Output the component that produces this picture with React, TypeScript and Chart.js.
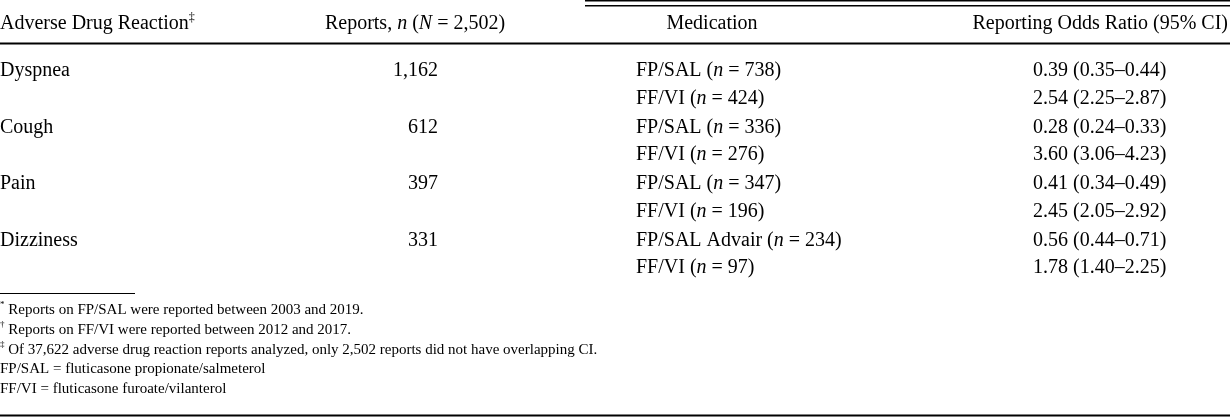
import React, { useEffect, useRef } from "react";
import { Chart, registerables } from "chart.js";

Chart.register(...registerables);

// ---------- data ----------
const reactions = ["Dyspnea", "Cough", "Pain", "Dizziness"];
const reportCounts = [1162, 612, 397, 331];
const totalReports = 2502;

const medications = ["FP/SAL", "FF/VI", "FP/SAL", "FF/VI", "FP/SAL", "FF/VI", "FP/SAL Advair", "FF/VI"];
const medicationN = [738, 424, 336, 276, 347, 196, 234, 97];
const rorValues = [0.39, 2.54, 0.28, 3.6, 0.41, 2.45, 0.56, 1.78];
const ciLower = [0.35, 2.25, 0.24, 3.06, 0.34, 2.05, 0.44, 1.4];
const ciUpper = [0.44, 2.87, 0.33, 4.23, 0.49, 2.92, 0.71, 2.25];

const headerLabels = ["Adverse Drug Reaction", "Reports", "Medication", "Reporting Odds Ratio (95% CI)"];

const footnoteMarks = ["*", "†", "‡", "", ""];
const footnoteTexts = [
  "Reports on FP/SAL were reported between 2003 and 2019.",
  "Reports on FF/VI were reported between 2012 and 2017.",
  "Of 37,622 adverse drug reaction reports analyzed, only 2,502 reports did not have overlapping CI.",
  "FP/SAL = fluticasone propionate/salmeterol",
  "FF/VI = fluticasone furoate/vilanterol",
];

// ---------- layout (pixel-like units on the chart's own scales) ----------
const W = 1230;
const H = 418;
const FONT = '"Liberation Serif", "Times New Roman", serif';
const COL = {
  reaction: 0,
  reportsRight: 438,
  reportsHeaderCenter: 415,
  medication: 636,
  medicationHeaderCenter: 712,
  rorLeft: 1033,
  rorHeaderRight: 1228,
  note: 0,
};
const HEADER_Y = 24;
const subRowY = (i: number) => 71 + Math.floor(i / 2) * 56.5 + (i % 2) * 27.5;
const NOTE_Y0 = 310;
const NOTE_STEP = 19.8;

type Seg = { t: string; it?: boolean; sup?: boolean };

function drawRich(
  ctx: CanvasRenderingContext2D,
  segs: Seg[],
  x: number,
  y: number,
  size: number,
  align: "left" | "right" | "center"
) {
  const fontFor = (s: Seg) => {
    const sz = s.sup ? Math.round(size * 0.62) : size;
    return `${s.it ? "italic " : ""}${sz}px ${FONT}`;
  };
  let total = 0;
  const widths = segs.map((s) => {
    ctx.font = fontFor(s);
    const w = ctx.measureText(s.t).width;
    total += w;
    return w;
  });
  let cx = align === "left" ? x : align === "right" ? x - total : x - total / 2;
  ctx.textBaseline = "middle";
  ctx.textAlign = "left";
  segs.forEach((s, i) => {
    ctx.font = fontFor(s);
    ctx.fillText(s.t, cx, s.sup ? y - size * 0.33 : y);
    cx += widths[i];
  });
}

const tablePlugin = {
  id: "tableText",
  afterDraw(chart: any) {
    const { ctx } = chart;
    const xs = chart.scales.x;
    const ys = chart.scales.y;
    const px = (v: number) => xs.getPixelForValue(v);
    const py = (v: number) => ys.getPixelForValue(v);
    ctx.save();
    ctx.fillStyle = "#000";
    ctx.strokeStyle = "#000";

    // rules
    const rule = (x0: number, x1: number, yv: number, lw: number) => {
      ctx.lineWidth = lw;
      ctx.beginPath();
      ctx.moveTo(px(x0), py(yv));
      ctx.lineTo(px(x1), py(yv));
      ctx.stroke();
    };
    rule(585, W, 0.8, 1.6);
    rule(585, W, 5.8, 1.6);
    rule(0, W, 43.5, 2);
    rule(0, 135, 293.5, 1.2);
    rule(0, W, 415.5, 2);

    // header
    drawRich(ctx, [{ t: headerLabels[0] }, { t: "‡", sup: true }], px(COL.reaction), py(HEADER_Y), 20, "left");
    drawRich(
      ctx,
      [
        { t: headerLabels[1] + ", " },
        { t: "n", it: true },
        { t: " (" },
        { t: "N", it: true },
        { t: " = " + totalReports.toLocaleString("en-US") + ")" },
      ],
      px(COL.reportsHeaderCenter),
      py(HEADER_Y),
      20,
      "center"
    );
    drawRich(ctx, [{ t: headerLabels[2] }], px(COL.medicationHeaderCenter), py(HEADER_Y), 20, "center");
    drawRich(ctx, [{ t: headerLabels[3] }], px(COL.rorHeaderRight), py(HEADER_Y), 20, "right");

    // body rows (positions taken from the dataset points)
    const m0 = chart.getDatasetMeta(0);
    m0.data.forEach((pt: any, i: number) => {
      drawRich(ctx, [{ t: reactions[i] }], pt.x, pt.y, 20, "left");
    });
    const m1 = chart.getDatasetMeta(1);
    m1.data.forEach((pt: any, i: number) => {
      drawRich(ctx, [{ t: reportCounts[i].toLocaleString("en-US") }], pt.x, pt.y, 20, "right");
    });
    const m2 = chart.getDatasetMeta(2);
    m2.data.forEach((pt: any, i: number) => {
      drawRich(
        ctx,
        [{ t: medications[i] + " (" }, { t: "n", it: true }, { t: " = " + medicationN[i] + ")" }],
        pt.x,
        pt.y,
        20,
        "left"
      );
    });
    const m3 = chart.getDatasetMeta(3);
    m3.data.forEach((pt: any, i: number) => {
      drawRich(
        ctx,
        [{ t: `${rorValues[i].toFixed(2)} (${ciLower[i].toFixed(2)}–${ciUpper[i].toFixed(2)})` }],
        pt.x,
        pt.y,
        20,
        "left"
      );
    });

    // footnotes
    footnoteTexts.forEach((t, i) => {
      const segs: Seg[] = footnoteMarks[i] ? [{ t: footnoteMarks[i], sup: true }, { t: " " + t }] : [{ t }];
      drawRich(ctx, segs, px(COL.note), py(NOTE_Y0 + i * NOTE_STEP), 15, "left");
    });
    ctx.restore();
  },
};

export default function App() {
  const ref = useRef<HTMLCanvasElement | null>(null);
  useEffect(() => {
    document.body.style.margin = "0";
    document.body.style.background = "#fff";
    if (!ref.current) return;
    const chart = new Chart(ref.current, {
      type: "scatter",
      data: {
        datasets: [
          { label: "reactions", data: reactions.map((_, i) => ({ x: COL.reaction, y: subRowY(i * 2) })) },
          { label: "reports", data: reportCounts.map((_, i) => ({ x: COL.reportsRight, y: subRowY(i * 2) })) },
          { label: "medication", data: medications.map((_, i) => ({ x: COL.medication, y: subRowY(i) })) },
          { label: "ror", data: rorValues.map((_, i) => ({ x: COL.rorLeft, y: subRowY(i) })) },
        ].map((d) => ({ ...d, pointRadius: 0, pointHoverRadius: 0, showLine: false })),
      },
      options: {
        animation: false,
        responsive: true,
        maintainAspectRatio: false,
        devicePixelRatio: 1,
        layout: { padding: 0 },
        events: [],
        plugins: { legend: { display: false }, tooltip: { enabled: false } },
        scales: {
          x: { type: "linear", min: 0, max: W, display: false },
          y: { type: "linear", min: 0, max: H, reverse: true, display: false },
        },
      },
      plugins: [tablePlugin],
    });
    return () => chart.destroy();
  }, []);
  return (
    <div style={{ width: W, height: H, position: "relative", background: "#fff" }}>
      <canvas ref={ref} />
    </div>
  );
}
